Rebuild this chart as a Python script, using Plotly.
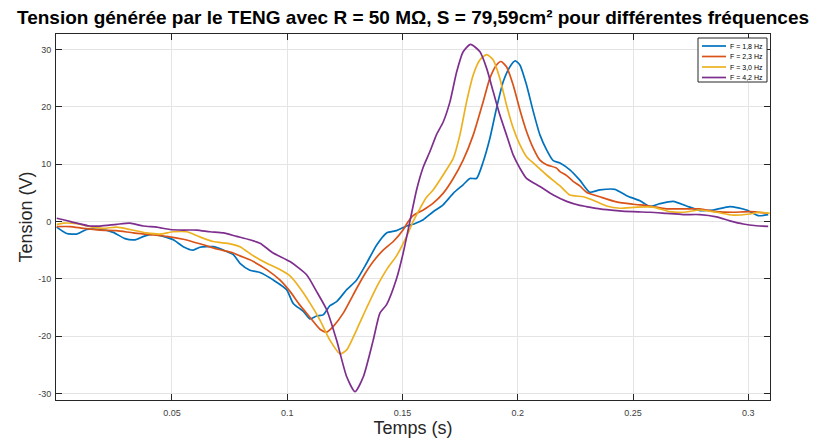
import plotly.graph_objects as go

# ---------------- data ----------------
t_f18 = [0.0, 0.0043, 0.0087, 0.013, 0.0188, 0.0245, 0.0296, 0.034, 0.0377, 0.0419,
         0.0462, 0.0506, 0.0549, 0.0592, 0.0621, 0.0679, 0.0723, 0.0766, 0.0795, 0.0838,
         0.0882, 0.0939, 0.0997, 0.1026, 0.107, 0.1098, 0.1127, 0.1156, 0.1185, 0.1214,
         0.1258, 0.1301, 0.1344, 0.1388, 0.1431, 0.1474, 0.1518, 0.1546, 0.1575, 0.159,
         0.1633, 0.1676, 0.172, 0.1763, 0.1792, 0.1821, 0.185, 0.1879, 0.1908, 0.1937,
         0.1966, 0.1989, 0.2009, 0.2038, 0.2067, 0.2096, 0.2125, 0.2154, 0.2183, 0.2226,
         0.2269, 0.2312, 0.2356, 0.2421, 0.2472, 0.253, 0.2573, 0.2616, 0.2674, 0.2732,
         0.279, 0.2847, 0.292, 0.2992, 0.3043, 0.3086]
v_f18 = [-1.0, -2.1, -2.2, -1.4, -1.4, -1.9, -3.0, -3.2, -2.6, -2.2,
         -2.6, -3.2, -4.4, -5.0, -4.5, -4.4, -5.0, -5.8, -7.3, -8.5,
         -8.9, -10.2, -11.9, -14.3, -15.7, -17.0, -16.5, -16.3, -14.7, -14.0,
         -11.9, -10.2, -7.3, -4.1, -2.0, -1.6, -0.8, -0.5, 0.0, 0.3,
         1.7, 2.9, 4.9, 6.4, 7.5, 7.5, 10.4, 14.5, 19.8, 24.4,
         27.0, 28.0, 27.3, 23.8, 19.2, 15.1, 12.5, 10.6, 10.2, 9.0,
         7.2, 5.1, 5.5, 5.6, 4.5, 3.6, 2.6, 3.1, 3.5, 2.7,
         1.9, 2.0, 2.6, 2.0, 1.0, 1.2]

t_f23 = [0.0, 0.0058, 0.0115, 0.0188, 0.026, 0.0332, 0.0405, 0.0477, 0.0549, 0.0621,
         0.0694, 0.0766, 0.0795, 0.0838, 0.0853, 0.0911, 0.0968, 0.1012, 0.1055, 0.1098,
         0.1142, 0.1171, 0.12, 0.1243, 0.1286, 0.133, 0.1373, 0.1416, 0.146, 0.1503,
         0.1525, 0.1546, 0.159, 0.1633, 0.1676, 0.172, 0.1763, 0.1807, 0.185, 0.1879,
         0.1908, 0.1927, 0.1951, 0.198, 0.2009, 0.2038, 0.2067, 0.2096, 0.2125, 0.2168,
         0.2183, 0.2212, 0.224, 0.2269, 0.2298, 0.2356, 0.2428, 0.25, 0.2573, 0.2645,
         0.2732, 0.279, 0.2862, 0.2934, 0.3006, 0.3086]
v_f23 = [-0.9, -0.9, -1.2, -1.5, -1.6, -2.0, -2.3, -2.6, -3.1, -3.9,
         -4.8, -5.5, -6.0, -6.7, -7.0, -8.4, -10.2, -12.2, -14.6, -16.7,
         -18.8, -19.3, -18.3, -16.0, -12.8, -9.6, -7.0, -5.0, -3.5, -1.45,
         0.0, 1.0, 2.0, 3.2, 4.9, 7.5, 10.7, 15.1, 20.9, 25.0,
         27.3, 27.9, 27.0, 23.8, 19.5, 15.7, 12.8, 10.7, 9.9, 9.3,
         8.7, 8.0, 7.0, 6.2, 5.1, 4.3, 3.4, 3.0, 2.7, 2.2,
         2.2, 2.2, 1.7, 1.6, 1.7, 1.4]

t_f30 = [0.0, 0.0029, 0.0087, 0.0144, 0.0202, 0.026, 0.0318, 0.039, 0.0448, 0.0506,
         0.0564, 0.0621, 0.0679, 0.0752, 0.0795, 0.0838, 0.0853, 0.0911, 0.0968, 0.1012,
         0.1055, 0.1098, 0.1142, 0.1185, 0.1229, 0.1258, 0.1301, 0.1344, 0.1388, 0.1431,
         0.1474, 0.1518, 0.1546, 0.1575, 0.1604, 0.1633, 0.1676, 0.172, 0.1749, 0.1778,
         0.1807, 0.1836, 0.1865, 0.1893, 0.1922, 0.1951, 0.198, 0.2009, 0.2038, 0.2067,
         0.2125, 0.2183, 0.2226, 0.2284, 0.2327, 0.2385, 0.2443, 0.2515, 0.2587, 0.2659,
         0.2717, 0.279, 0.2862, 0.2934, 0.3006, 0.305, 0.3093]
v_f30 = [-0.55, -0.3, -0.4, -0.9, -1.2, -1.0, -1.4, -2.0, -2.2, -1.8,
         -1.8, -2.7, -3.5, -3.9, -4.4, -5.6, -6.0, -7.3, -8.4, -9.5,
         -11.6, -14.2, -17.2, -20.7, -23.1, -22.4, -18.9, -15.1, -11.4, -8.4,
         -6.0, -2.6, 0.0, 2.2, 4.2, 5.5, 8.1, 11.0, 15.1, 20.9,
         25.6, 28.2, 29.1, 28.2, 25.0, 20.3, 16.3, 13.4, 11.3, 10.2,
         8.1, 6.2, 4.6, 4.3, 3.7, 2.7, 2.3, 2.5, 2.5, 1.7,
         1.6, 2.0, 1.6, 1.1, 1.3, 1.6, 1.4]

t_f42 = [0.0, 0.0029, 0.0087, 0.0144, 0.0188, 0.026, 0.0318, 0.0376, 0.0434, 0.0491,
         0.0549, 0.0607, 0.0665, 0.0723, 0.078, 0.0838, 0.0882, 0.0939, 0.1012, 0.1084,
         0.1127, 0.1171, 0.1214, 0.1258, 0.1294, 0.133, 0.1373, 0.1402, 0.1431, 0.1474,
         0.1503, 0.1532, 0.1561, 0.159, 0.1619, 0.1648, 0.1676, 0.1706, 0.1735, 0.1763,
         0.1795, 0.1836, 0.1865, 0.1893, 0.1922, 0.1951, 0.198, 0.2009, 0.2038, 0.2096,
         0.2154, 0.2212, 0.2269, 0.2298, 0.2356, 0.2428, 0.25, 0.2573, 0.2645, 0.2717,
         0.279, 0.2862, 0.292, 0.2978, 0.3035, 0.3086]
v_f42 = [0.55, 0.3, -0.3, -0.8, -0.8, -0.5, -0.3, -0.8, -1.0, -1.4,
         -1.5, -1.5, -1.8, -2.0, -2.6, -3.2, -3.8, -5.5, -7.0, -9.3,
         -12.2, -15.4, -20.7, -27.1, -29.7, -27.1, -20.7, -16.0, -14.5, -10.0,
         -5.5, 0.0, 5.5, 9.5, 12.2, 15.2, 17.3, 20.9, 26.1, 29.6,
         30.9, 29.6, 26.7, 22.7, 18.6, 15.1, 11.6, 9.3, 7.5, 6.1,
         4.6, 3.5, 2.8, 2.6, 2.2, 1.9, 1.7, 1.6, 1.4, 1.2,
         1.2, 0.8, 0.1, -0.45, -0.75, -0.85]

series_t = [t_f18, t_f23, t_f30, t_f42]
series_v = [v_f18, v_f23, v_f30, v_f42]
labels = ["F = 1,8 Hz", "F = 2,3 Hz", "F = 3,0 Hz", "F = 4,2 Hz"]
colors = ["#0072BD", "#D95319", "#EDB120", "#7E2F8E"]

x_tickvals = [0.05, 0.1, 0.15, 0.2, 0.25, 0.3]
x_ticktext = ["0.05", "0.1", "0.15", "0.2", "0.25", "0.3"]
y_tickvals = [-30, -20, -10, 0, 10, 20, 30]
y_ticktext = ["-30", "-20", "-10", "0", "10", "20", "30"]

title_text = "Tension générée par le TENG avec R = 50 MΩ, S = 79,59cm² pour différentes fréquences"
x_title = "Temps (s)"
y_title = "Tension (V)"

# ---------------- figure ----------------
W, H = 814, 438
ML, MR, MT, MB = 56, 44, 34, 38
FONT = "Liberation Sans, Arial, Helvetica, sans-serif"
AX = "#262626"

fig = go.Figure()
for t, v, lab, c in zip(series_t, series_v, labels, colors):
    fig.add_trace(go.Scatter(x=t, y=v, mode="lines", name=lab,
                             line=dict(color=c, width=1.7, shape="spline", smoothing=0.6),
                             showlegend=False))

axis_common = dict(showline=True, linecolor=AX, linewidth=1, mirror="ticks",
                   ticks="inside", ticklen=6, tickwidth=1, tickcolor=AX,
                   showgrid=True, gridcolor="#e4e4e4", gridwidth=1, zeroline=False,
                   automargin=False,
                   tickfont=dict(family=FONT, size=9, color="#404040"))

fig.update_xaxes(range=[-0.0003, 0.3094], tickvals=x_tickvals, ticktext=x_ticktext,
                 ticklabelstandoff=4,
                 title=dict(text=x_title, font=dict(family=FONT, size=18, color=AX), standoff=8),
                 **axis_common)
fig.update_yaxes(range=[-31.15, 32.7], tickvals=y_tickvals, ticktext=y_ticktext,
                 ticklabelstandoff=2,
                 title=dict(text=y_title, font=dict(family=FONT, size=18, color=AX), standoff=0),
                 **axis_common)


def px(x):
    return (x - ML) / (W - ML - MR)


def py(y):
    return (H - MB - y) / (H - MT - MB)


shapes = [dict(type="rect", xref="paper", yref="paper", x0=px(698), x1=px(767),
               y0=py(82), y1=py(38), line=dict(color=AX, width=1), fillcolor="white",
               layer="above")]
annotations = []
rows = [46, 56.5, 67, 77.5]
for r, lab, c in zip(rows, labels, colors):
    shapes.append(dict(type="line", xref="paper", yref="paper", x0=px(702), x1=px(726),
                       y0=py(r), y1=py(r), line=dict(color=c, width=1.7), layer="above"))
    annotations.append(dict(xref="paper", yref="paper", x=px(728), y=py(r),
                            xanchor="left", yanchor="middle", text=lab, showarrow=False,
                            font=dict(family=FONT, size=7, color="#000000")))

fig.update_layout(
    width=W, height=H,
    margin=dict(l=ML, r=MR, t=MT, b=MB, autoexpand=False),
    paper_bgcolor="white", plot_bgcolor="white",
    title=dict(text="<b>" + title_text + "</b>", x=0.5, xref="paper", xanchor="center",
               y=1 - 17 / H, yref="container", yanchor="middle",
               font=dict(family=FONT, size=19, color="#000000")),
    shapes=shapes, annotations=annotations,
    showlegend=False,
)

fig.write_html("out.html", config={"displayModeBar": False},
               post_script="document.body.style.margin='0';document.body.style.overflow='hidden';")
